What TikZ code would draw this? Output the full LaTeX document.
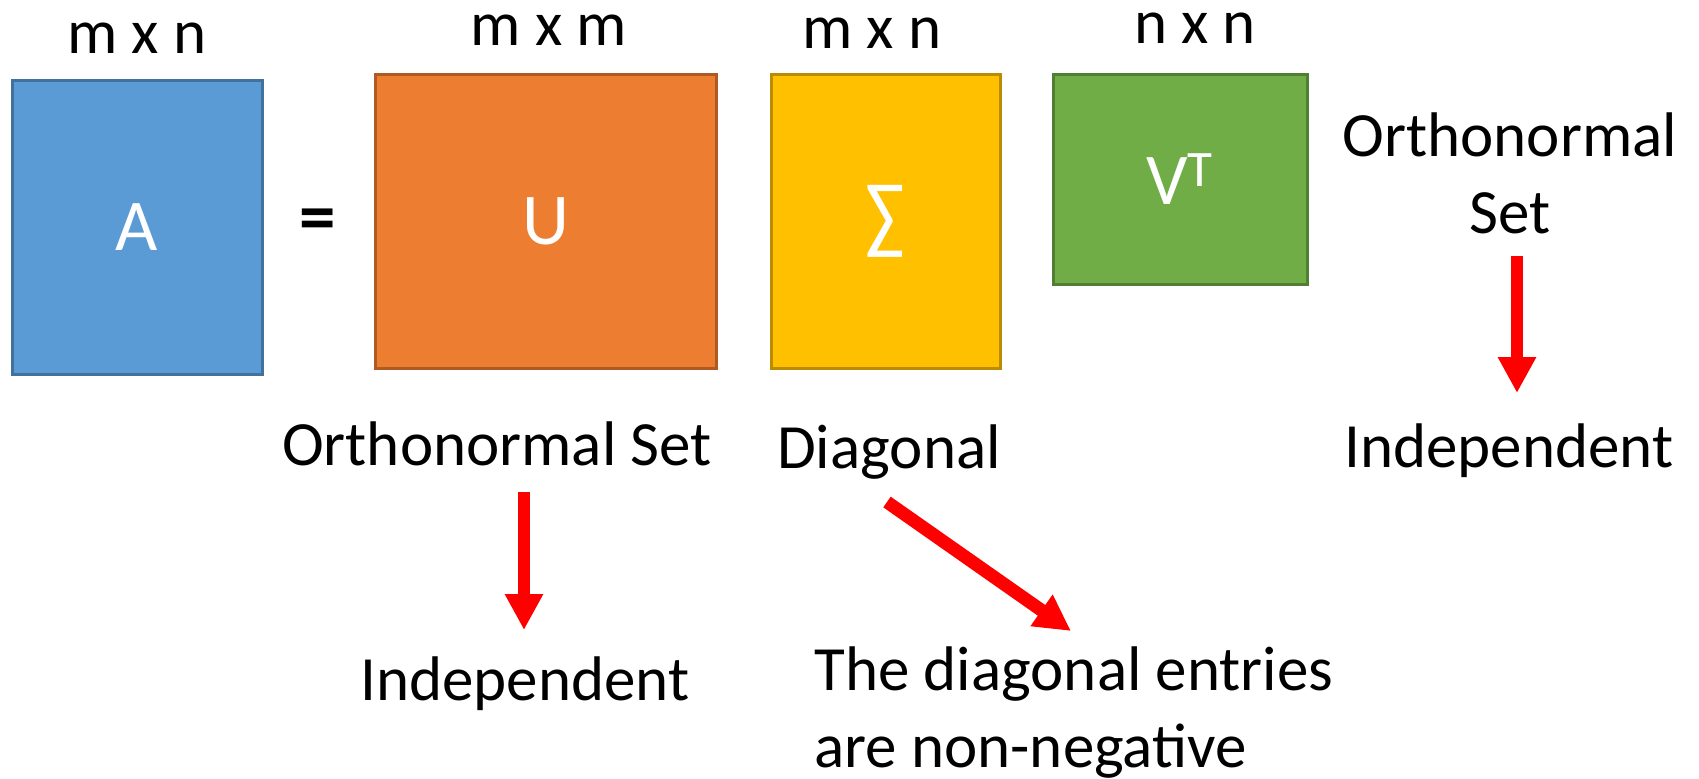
\documentclass[tikz,border=0pt]{standalone}
\usepackage{fontspec}
\setmainfont{Carlito}
\usetikzlibrary{arrows.meta, positioning}
\definecolor{matblue}{HTML}{5B9BD5}
\definecolor{matblueline}{HTML}{41719C}
\definecolor{matorange}{HTML}{ED7D31}
\definecolor{matorangeline}{HTML}{AE5A21}
\definecolor{matyellow}{HTML}{FFC000}
\definecolor{matyellowline}{HTML}{BC8C00}
\definecolor{matgreen}{HTML}{70AD47}
\definecolor{matgreenline}{HTML}{507E32}
\tikzset{
  matbox/.style={draw, line width=1.5pt, minimum height=147pt, inner sep=0pt, text=white, font=\fontsize{36.5}{44}\selectfont},
  amat/.style={matbox, fill=matblue, draw=matblueline, minimum width=125pt},
  umat/.style={matbox, fill=matorange, draw=matorangeline, minimum width=170.5pt},
  smat/.style={matbox, fill=matyellow, draw=matyellowline, minimum width=114.5pt},
  vmat/.style={matbox, fill=matgreen, draw=matgreenline, minimum width=127pt, minimum height=105pt},
  dimlabel/.style={anchor=base, inner sep=0pt, font=\fontsize{31.5}{38}\selectfont},
  notelabel/.style={anchor=base, inner sep=0pt, align=center, font=\fontsize{31.5}{38.5}\selectfont},
  redarrow/.style={-{Triangle[length=18pt, width=18pt]}, line width=5.75pt, red},
}

\begin{document}
\begin{tikzpicture}[x=0.5pt, y=-0.5pt]
  \useasboundingbox (0,0) rectangle (1699,778);
  % the four matrices
  \node[amat] (A) at (137,227) {A};
  \node[dimlabel, font=\fontsize{36.5}{44}\selectfont\bfseries] (eq) at (317.5,241) {=};
  \node[umat] (U) at (545.5,221) {U};
  \node[smat] (S) at (885.5,221) {\scalebox{1}[1.18]{∑}};
  \node[vmat] (V) at (1180,179) {V\textsuperscript{T}};
  % sizes
  \node[dimlabel] (dimA) at (137,53) {m x n};
  \node[dimlabel] (dimU) at (549,45) {m x m};
  \node[dimlabel] (dimS) at (872,48) {m x n};
  \node[dimlabel] (dimV) at (1195,43) {n x n};
  % properties (base = last line)
  \node[notelabel] (orthU) at (497,465) {Orthonormal Set};
  \node[notelabel] (diagS) at (889,468) {Diagonal};
  \node[notelabel] (orthV) at (1510,233) {Orthonormal\\Set};
  \node[notelabel] (indV) at (1509,467) {Independent};
  \node[notelabel] (indU) at (525,700) {Independent};
  \node[notelabel, align=left, anchor=base west] (nonneg) at (814,767) {The diagonal entries\\are non-negative};
  \coordinate (uTop) at (524,492);
  \coordinate (uEnd) at (524,630);
  \coordinate (sTop) at (887,502);
  \coordinate (sEnd) at (1071,631);
  \coordinate (vTop) at (1517,256);
  \coordinate (vEnd) at (1517,393);
  \draw[redarrow] (uTop) -- (uEnd);
  \draw[redarrow, line width=6.5pt] (sTop) -- (sEnd);
  \draw[redarrow] (vTop) -- (vEnd);
\end{tikzpicture}
\end{document}
